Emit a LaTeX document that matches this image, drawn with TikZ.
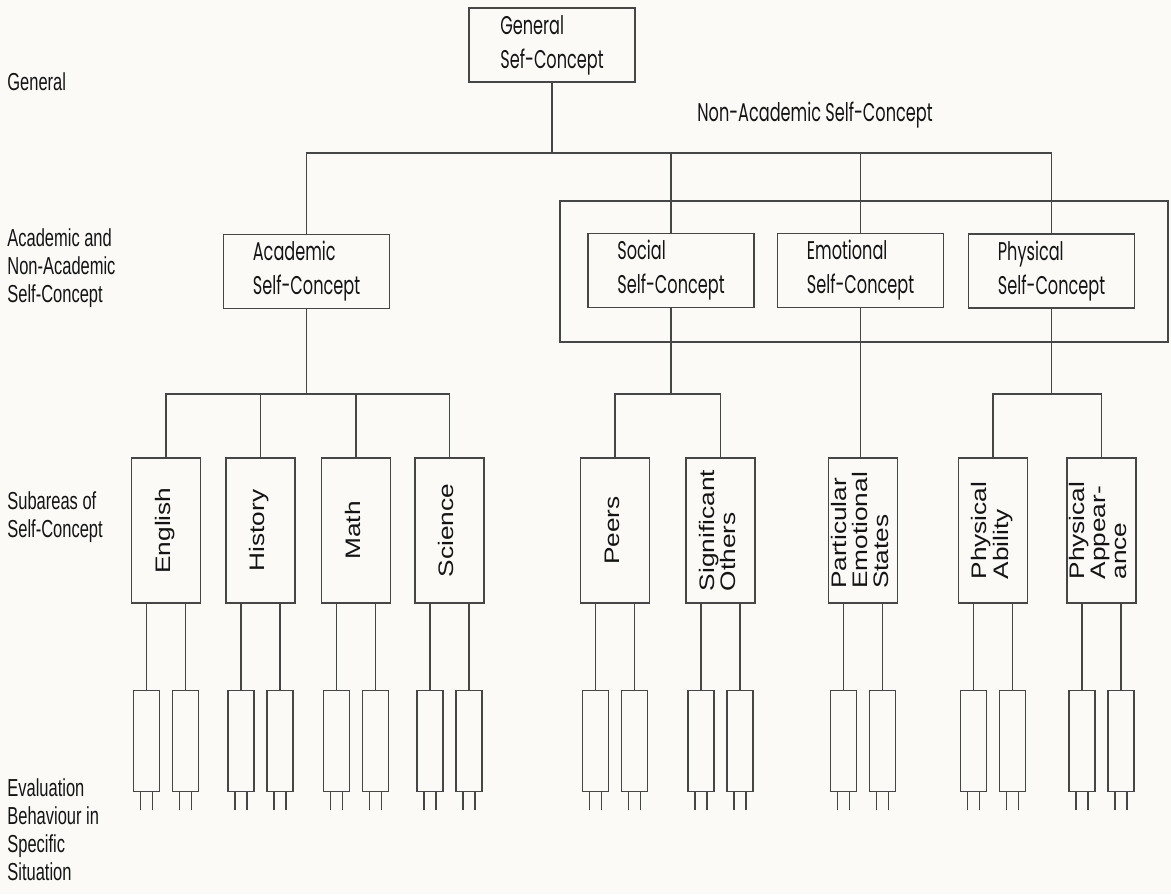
\documentclass[tikz,border=0pt]{standalone}
\usepackage{fontspec}
\usepackage{graphicx}
\setmainfont{Liberation Sans}
\newfontfamily\boxfont[FakeStretch=0.63]{Poppins}
\newfontfamily\sidefont[FakeStretch=0.67]{Liberation Sans}
\newfontfamily\subfont[FakeStretch=1.25]{Liberation Sans}
\usetikzlibrary{calc}

\definecolor{paper}{RGB}{251,250,247}
\definecolor{ink}{RGB}{70,70,70}
\definecolor{print}{RGB}{20,20,20}

% rotated, left aligned label for the tall boxes
\newcommand{\uplabel}[1]{\rotatebox{90}{\subfont\fontsize{10.5}{10.5}\selectfont\begin{tabular}{@{}l@{}}#1\end{tabular}}}

\begin{document}
\begin{tikzpicture}[x=0.5pt, y=-0.5pt,
  concept/.style={draw=ink, line width=0.55pt, minimum width=83pt, minimum height=37pt, inner sep=0pt, align=left, text=print, font=\boxfont\fontsize{12.8}{17}\selectfont},
  subarea/.style={draw=ink, line width=0.55pt, minimum width=34.5pt, minimum height=72.5pt, inner sep=0pt, text=print},
  evalbox/.style={draw=ink, line width=0.55pt, minimum width=13pt, minimum height=50.5pt, inner sep=0pt},
  frame/.style={draw=ink, line width=0.55pt, minimum width=304pt, minimum height=70.5pt, inner sep=0pt},
  level/.style={anchor=west, align=left, inner sep=0pt, text=print, font=\sidefont\fontsize{12.3}{14}\selectfont},
  link/.style={draw=ink, line width=0.55pt},
]
\fill[paper] (0,0) rectangle (1171,894);
\useasboundingbox (0,0) rectangle (1171,894);

% levels on the left
\node[level] (lvgen) at (7,82) {General};
\node[level] (lvacad) at (7,268) {Academic and\\Non-Academic\\Self-Concept};
\node[level] (lvsub) at (7,517) {Subareas of\\Self-Concept};
\node[level] (lveval) at (7,830) {Evaluation\\Behaviour in\\Specific\\Situation};

% top of the hierarchy
\node[concept] (gen) at (552,45) {General\\Sef-Concept};
\node[frame] (nonacad) at (864,271.5) {};
\node[text=print, inner sep=0pt, font=\boxfont\fontsize{12.8}{17}\selectfont] (nalabel) at (815,115) {Non-Academic Self-Concept};

\node[concept] (acad) at (306.5,271.5) {Academic\\Self-Concept};
\node[concept] (social) at (671,270.5) {Social\\Self-Concept};
\node[concept] (emot) at (860.5,270.5) {Emotional\\Self-Concept};
\node[concept] (phys) at (1051.5,271) {Physical\\Self-Concept};

% subareas
\node[subarea] (eng) at (166,530.5) {\uplabel{English}};
\node[subarea] (hist) at (260.5,530.5) {\uplabel{History}};
\node[subarea] (math) at (356,530.5) {\uplabel{Math}};
\node[subarea] (sci) at (449.5,530.5) {\uplabel{Science}};
\node[subarea] (peer) at (615,530.5) {\uplabel{Peers}};
\node[subarea] (sig) at (720.5,530.5) {\uplabel{Significant\\Others}};
\node[subarea] (part) at (863,530.5) {\uplabel{Particular\\Emotional\\States}};
\node[subarea] (abil) at (993,530.5) {\uplabel{Physical\\Ability}};
\node[subarea] (appr) at (1101.5,530.5) {\uplabel{Physical\\Appear-\\ance}};

% connectors
\coordinate (topbus) at (0,153);
\coordinate (subbus) at (0,394);
\draw[link] (gen.south) -- (gen.south |- topbus);
\draw[link] (acad.north) -- (acad.north |- topbus) -- (phys.north |- topbus) -- (phys.north);
\draw[link] (social.north) -- (social.north |- topbus);
\draw[link] (emot.north) -- (emot.north |- topbus);

\draw[link] (acad.south) -- (acad.south |- subbus);
\draw[link] (eng.north) -- (eng.north |- subbus) -- (sci.north |- subbus) -- (sci.north);
\draw[link] (hist.north) -- (hist.north |- subbus);
\draw[link] (math.north) -- (math.north |- subbus);

\draw[link] (social.south) -- (social.south |- subbus);
\draw[link] (peer.north) -- (peer.north |- subbus) -- (sig.north |- subbus) -- (sig.north);
\draw[link] (emot.south) -- (emot.south |- part.north);
\draw[link] (phys.south) -- (phys.south |- subbus);
\draw[link] (abil.north) -- (abil.north |- subbus) -- (appr.north |- subbus) -- (appr.north);

% evaluation boxes under each subarea
\foreach \s in {eng,hist,math,sci,peer,sig,part,abil,appr} {
  \foreach \d/\i in {-19.5/1,19.5/2} {
    \node[evalbox] (\s-ev\i) at ($(\s.south)+(\d,137)$) {};
    \draw[link] (\s-ev\i.north) -- (\s-ev\i.north |- \s.south);
    \draw[link] ($(\s-ev\i.south)+(-6,0)$) -- ++(0,18);
    \draw[link] ($(\s-ev\i.south)+(6,0)$) -- ++(0,18);
  }
}
\end{tikzpicture}
\end{document}
